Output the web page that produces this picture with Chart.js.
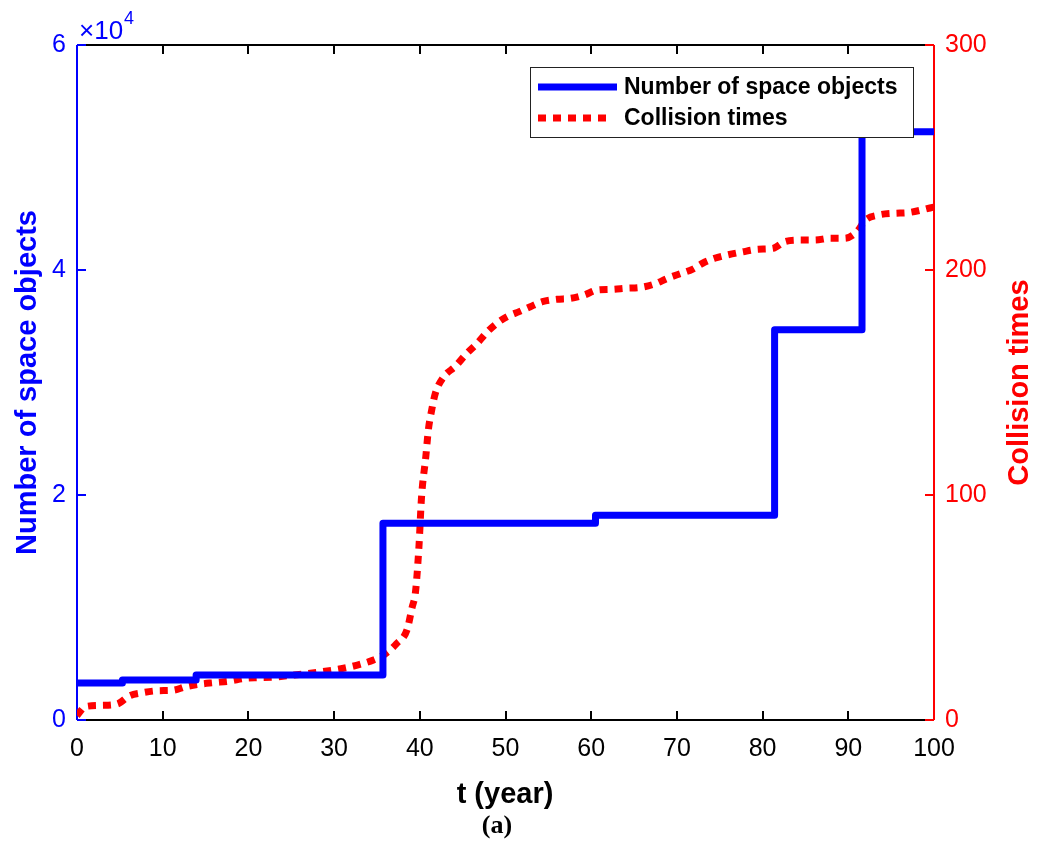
<!DOCTYPE html>
<html><head><meta charset="utf-8">
<script src="https://cdn.jsdelivr.net/npm/chart.js@4.4.1/dist/chart.umd.min.js"></script>
<style>html,body{margin:0;padding:0;background:#fff;} #wrap{width:1051px;height:849px;}</style>
</head><body><div id="wrap"><canvas id="c" width="1051" height="849"></canvas></div>
<script>
// ---- data ----
const stepYears = [0, 5.3, 13.9, 35.7, 60.5, 81.4, 91.6, 100];
const spaceObjects = [3300, 3550, 4000, 17500, 18200, 34700, 52300, 52300];

const collisionYears = [0, 1, 3, 4.7, 6.1, 7.6, 9.4, 11.2, 12.7, 14.3, 16, 17.8, 19.6, 21.1, 22.9, 24.6, 26.4, 28.1, 29.9, 31.5, 33, 34.6, 35.9, 37.3, 38.5, 39.1, 39.5, 39.9, 40.2, 40.7, 41.0, 41.4, 41.8, 42.8, 44.1, 45.5, 46.7, 47.9, 49, 50.2, 51.6, 52.9, 54.3, 56, 57.6, 59.2, 60.7, 62.3, 64.1, 65.8, 67.4, 68.9, 70.5, 71.8, 73, 74.4, 75.9, 77.7, 79.5, 81.2, 82.6, 84.3, 86.1, 87.9, 89.6, 91, 92, 93.5, 95.3, 97, 98.6, 100];
const collisionTimes = [2, 6, 6.5, 7.1, 10.7, 12.1, 13, 13.2, 14.8, 15.9, 16.6, 17.3, 18.5, 18.8, 19, 19.7, 20.4, 21.2, 22.2, 23.3, 24.7, 26.7, 29.2, 34, 40, 50, 57, 77, 99, 117, 129, 138, 145, 152.6, 157, 163, 167.4, 172.6, 176.3, 179.3, 181.5, 183.7, 185.9, 187, 187.4, 188.9, 191.1, 191.4, 191.9, 192.3, 193.8, 196.3, 198.5, 200.3, 203, 205.2, 206.7, 208.1, 209.2, 209.6, 212.6, 213.3, 213.3, 214.1, 214.1, 217, 222.2, 224.4, 225.2, 225.5, 226.7, 228];

const xTicks = [0, 10, 20, 30, 40, 50, 60, 70, 80, 90, 100];
const leftTicks = [0, 20000, 40000, 60000];
const rightTicks = [0, 100, 200, 300];

const seriesNames = ['Number of space objects', 'Collision times'];
const xTitle = 't (year)';
const caption = '(a)';

const BLUE = '#0000ff', RED = '#ff0000';
const FONT = "'Liberation Sans', Arial, sans-serif";

function line(ctx, x1, y1, x2, y2) { ctx.beginPath(); ctx.moveTo(x1, y1); ctx.lineTo(x2, y2); ctx.stroke(); }

const framePlugin = {
  id: 'frame',
  beforeDatasetsDraw(chart) {
    const { ctx, chartArea: { left, right, top, bottom }, scales } = chart;
    ctx.save();
    ctx.lineWidth = 2;
    ctx.strokeStyle = '#000';
    line(ctx, left, top, right, top);
    line(ctx, left, bottom, right, bottom);
    xTicks.forEach(v => {
      const px = Math.round(scales.x.getPixelForValue(v));
      line(ctx, px, bottom, px, bottom - 9);
      line(ctx, px, top, px, top + 9);
    });
    ctx.strokeStyle = BLUE;
    line(ctx, left, top, left, bottom);
    leftTicks.forEach(v => { const py = Math.round(scales.y.getPixelForValue(v)); line(ctx, left, py, left + 9, py); });
    ctx.strokeStyle = RED;
    line(ctx, right, top, right, bottom);
    rightTicks.forEach(v => { const py = Math.round(scales.y1.getPixelForValue(v)); line(ctx, right, py, right - 9, py); });
    ctx.restore();
  },
  afterDraw(chart) {
    const { ctx, chartArea: { left, right, top, bottom } } = chart;
    ctx.save();
    // exponent label
    ctx.fillStyle = BLUE;
    ctx.textBaseline = 'alphabetic';
    ctx.textAlign = 'left';
    ctx.font = '26px ' + FONT;
    ctx.fillText('\u00d710', left + 2, 39);
    const w = ctx.measureText('\u00d710').width;
    ctx.font = '18px ' + FONT;
    ctx.fillText('4', left + 2 + w + 1, 24);
    // axis titles
    ctx.font = 'bold 29px ' + FONT;
    ctx.textAlign = 'center';
    ctx.textBaseline = 'middle';
    ctx.save();
    ctx.translate(28, (top + bottom) / 2);
    ctx.rotate(-Math.PI / 2);
    ctx.fillStyle = BLUE;
    ctx.fillText(seriesNames[0], 0, 0);
    ctx.restore();
    ctx.save();
    ctx.translate(1020, (top + bottom) / 2);
    ctx.rotate(-Math.PI / 2);
    ctx.fillStyle = RED;
    ctx.fillText(seriesNames[1], 0, 0);
    ctx.restore();
    ctx.fillStyle = '#000';
    ctx.fillText(xTitle, 505, 795);
    ctx.font = "bold 26px 'Liberation Serif', 'DejaVu Serif', serif";
    ctx.fillText(caption, 497, 826);
    // legend
    ctx.fillStyle = '#fff';
    ctx.fillRect(530, 67, 383, 70);
    ctx.strokeStyle = '#222';
    ctx.lineWidth = 1;
    ctx.strokeRect(530.5, 67.5, 383, 70);
    ctx.lineWidth = 7;
    ctx.strokeStyle = BLUE;
    ctx.lineCap = 'butt';
    line(ctx, 538, 87, 617, 87);
    ctx.strokeStyle = RED;
    ctx.setLineDash([8, 7]);
    line(ctx, 538, 118, 612, 118);
    ctx.setLineDash([]);
    ctx.fillStyle = '#000';
    ctx.textAlign = 'left';
    ctx.font = 'bold 23px ' + FONT;
    ctx.fillText(seriesNames[0], 624, 88);
    ctx.fillText(seriesNames[1], 624, 119);
    ctx.restore();
  }
};

new Chart(document.getElementById('c'), {
  type: 'line',
  data: {
    datasets: [
      {
        label: seriesNames[0],
        data: stepYears.map((x, i) => ({ x, y: spaceObjects[i] })),
        yAxisID: 'y',
        borderColor: BLUE,
        borderWidth: 7,
        stepped: 'before',
        pointRadius: 0,
        borderJoinStyle: 'round',
        fill: false
      },
      {
        label: seriesNames[1],
        data: collisionYears.map((x, i) => ({ x, y: collisionTimes[i] })),
        yAxisID: 'y1',
        borderColor: RED,
        borderWidth: 7,
        borderDash: [8, 7],
        borderCapStyle: 'butt',
        cubicInterpolationMode: 'monotone',
        pointRadius: 0,
        fill: false
      }
    ]
  },
  options: {
    responsive: false,
    animation: false,
    devicePixelRatio: 1,
    layout: { padding: { top: 45, left: 0, right: 0, bottom: 0 } },
    plugins: { legend: { display: false }, tooltip: { enabled: false } },
    scales: {
      x: {
        type: 'linear', min: 0, max: 100,
        grid: { display: false, drawTicks: false },
        border: { display: false },
        ticks: { stepSize: 10, color: '#000', font: { family: FONT, size: 25 }, padding: 14, maxRotation: 0 },
        afterFit(s) { s.height = 129; }
      },
      y: {
        type: 'linear', position: 'left', min: 0, max: 60000,
        grid: { display: false, drawTicks: false },
        border: { display: false },
        ticks: { stepSize: 20000, color: BLUE, font: { family: FONT, size: 25 }, padding: 11, callback: v => String(v / 10000) },
        afterFit(s) { s.width = 77; }
      },
      y1: {
        type: 'linear', position: 'right', min: 0, max: 300,
        grid: { display: false, drawTicks: false },
        border: { display: false },
        ticks: { stepSize: 100, color: RED, font: { family: FONT, size: 25 }, padding: 11 },
        afterFit(s) { s.width = 117; }
      }
    }
  },
  plugins: [framePlugin]
});
</script>
</body></html>
